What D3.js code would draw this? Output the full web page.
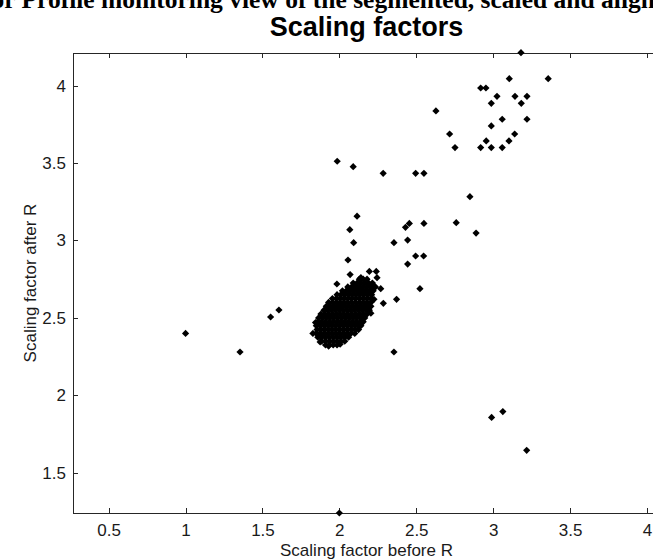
<!DOCTYPE html>
<html>
<head>
<meta charset="utf-8">
<script src="https://cdn.jsdelivr.net/npm/d3@7"></script>
<style>
  body { margin: 0; background: #fff; }
  svg { display: block; }
</style>
</head>
<body>
<svg></svg>
<script>
var width = 653;
var height = 560;

var xTicks = [0.5, 1, 1.5, 2, 2.5, 3, 3.5, 4];
var yTicks = [1.5, 2, 2.5, 3, 3.5, 4];

// scattered points
var outlierX = [3.181, 3.105, 3.358, 2.919, 2.953, 3.025, 3.142, 3.220, 2.988, 3.183,
  2.628, 3.059, 3.220, 2.988, 2.717, 3.140, 2.955, 3.103, 2.752, 2.919,
  2.988, 3.059, 1.986, 2.090, 2.285, 2.496, 2.550, 2.849, 2.115, 2.068,
  2.889, 2.760, 2.430, 2.455, 2.550, 2.093, 2.355, 2.444, 2.056, 2.496,
  2.548, 2.444, 1.984, 2.269, 2.524, 2.372, 2.286, 1.607, 1.553, 1.000,
  1.354, 2.355, 2.990, 3.063, 3.218, 2.000];
var outlierY = [4.213, 4.045, 4.045, 3.985, 3.985, 3.931, 3.931, 3.931, 3.886, 3.886,
  3.837, 3.783, 3.783, 3.740, 3.688, 3.688, 3.643, 3.643, 3.600, 3.600,
  3.600, 3.600, 3.512, 3.477, 3.434, 3.434, 3.434, 3.283, 3.157, 3.070,
  3.048, 3.115, 3.085, 3.110, 3.110, 2.986, 2.986, 3.003, 2.874, 2.900,
  2.900, 2.848, 2.719, 2.689, 2.689, 2.620, 2.594, 2.551, 2.506, 2.400,
  2.280, 2.280, 1.857, 1.895, 1.645, 1.240];

// ragged edge of the dense cluster
var edgeX = [1.828, 1.845, 1.875, 1.930, 2.005, 2.205, 2.225, 2.235, 2.245, 2.195, 2.240, 2.070, 2.140, 2.120];
var edgeY = [2.400, 2.470, 2.345, 2.318, 2.330, 2.530, 2.620, 2.700, 2.760, 2.800, 2.800, 2.780, 2.760, 2.460];

// dense cluster, row by row
var clusterRowY = [2.325, 2.35, 2.375, 2.40, 2.425, 2.45, 2.475, 2.50, 2.525,
  2.55, 2.575, 2.60, 2.625, 2.65, 2.675, 2.70, 2.725, 2.75];
var clusterRowX = [
  [1.91, 1.935, 1.96, 1.985],
  [1.885, 1.91, 1.935, 1.96, 1.985, 2.01, 2.035],
  [1.86, 1.885, 1.91, 1.935, 1.96, 1.985, 2.01, 2.035, 2.06],
  [1.85, 1.875, 1.9, 1.925, 1.95, 1.975, 2, 2.025, 2.05, 2.075, 2.1],
  [1.855, 1.88, 1.905, 1.93, 1.955, 1.98, 2.005, 2.03, 2.055, 2.08, 2.105, 2.125],
  [1.85, 1.875, 1.9, 1.925, 1.95, 1.975, 2, 2.025, 2.05, 2.075, 2.1, 2.125, 2.14],
  [1.86, 1.885, 1.91, 1.935, 1.96, 1.985, 2.01, 2.035, 2.06, 2.085, 2.11, 2.135, 2.155],
  [1.865, 1.89, 1.915, 1.94, 1.965, 1.99, 2.015, 2.04, 2.065, 2.09, 2.115, 2.14, 2.165],
  [1.88, 1.905, 1.93, 1.955, 1.98, 2.005, 2.03, 2.055, 2.08, 2.105, 2.13, 2.155, 2.18],
  [1.9, 1.925, 1.95, 1.975, 2, 2.025, 2.05, 2.075, 2.1, 2.125, 2.15, 2.175, 2.195],
  [1.915, 1.94, 1.965, 1.99, 2.015, 2.04, 2.065, 2.09, 2.115, 2.14, 2.165, 2.19, 2.205],
  [1.93, 1.955, 1.98, 2.005, 2.03, 2.055, 2.08, 2.105, 2.13, 2.155, 2.18, 2.205],
  [1.955, 1.98, 2.005, 2.03, 2.055, 2.08, 2.105, 2.13, 2.155, 2.18, 2.205],
  [1.985, 2.01, 2.035, 2.06, 2.085, 2.11, 2.135, 2.16, 2.185, 2.21],
  [2.02, 2.045, 2.07, 2.095, 2.12, 2.145, 2.17, 2.195, 2.22],
  [2.055, 2.08, 2.105, 2.13, 2.155, 2.18, 2.205, 2.225],
  [2.09, 2.115, 2.14, 2.165, 2.19, 2.215],
  [2.13, 2.155, 2.18]
];

var points = [];
outlierX.forEach((x, i) => points.push({ x: x, y: outlierY[i] }));
edgeX.forEach((x, i) => points.push({ x: x, y: edgeY[i] }));
clusterRowY.forEach((y, r) => clusterRowX[r].forEach(x => points.push({ x: x, y: y })));

var margin = { top: 53, right: -7, bottom: 47, left: 73 };
var innerWidth = width - margin.left - margin.right;
var innerHeight = height - margin.top - margin.bottom;

var svg = d3.select('svg')
    .attr('width', width)
    .attr('height', height);

var x = d3.scaleLinear().domain([0.268, 4.085]).range([0, innerWidth]);
var y = d3.scaleLinear().domain([1.24, 4.211]).range([innerHeight, 0]);

// cut-off figure heading above the axes
svg.append('text')
    .attr('x', -17)
    .attr('y', 8)
    .attr('font-family', '"Liberation Serif", "Times New Roman", serif')
    .attr('font-weight', 'bold')
    .attr('font-size', 25.5)
    .text('for Profile monitoring view of the segmented, scaled and aligned');

var g = svg.append('g')
    .attr('transform', `translate(${margin.left},${margin.top})`);

g.append('text')
    .attr('x', innerWidth / 2)
    .attr('y', -17)
    .attr('text-anchor', 'middle')
    .attr('font-family', '"Liberation Sans", Arial, sans-serif')
    .attr('font-weight', 'bold')
    .attr('font-size', 27)
    .text('Scaling factors');

var axisColor = '#262626';
var tickFont = '"Liberation Sans", Arial, sans-serif';

// box
g.append('rect')
    .attr('x', 0).attr('y', 0)
    .attr('width', innerWidth).attr('height', innerHeight)
    .attr('fill', 'none')
    .attr('stroke', axisColor)
    .attr('stroke-width', 1)
    .attr('shape-rendering', 'crispEdges');

var xAxis = g.append('g').attr('transform', `translate(0,${innerHeight})`)
    .call(d3.axisBottom(x).tickValues(xTicks).tickSizeInner(-5).tickSizeOuter(0).tickPadding(11).tickFormat(d3.format('')));
var xAxisTop = g.append('g')
    .call(d3.axisTop(x).tickValues(xTicks).tickSizeInner(-5).tickSizeOuter(0).tickFormat(''));
var yAxis = g.append('g')
    .call(d3.axisLeft(y).tickValues(yTicks).tickSizeInner(-5).tickSizeOuter(0).tickPadding(7).tickFormat(d3.format('')));
var yAxisRight = g.append('g').attr('transform', `translate(${innerWidth},0)`)
    .call(d3.axisRight(y).tickValues(yTicks).tickSizeInner(-5).tickSizeOuter(0).tickFormat(''));

[xAxis, xAxisTop, yAxis, yAxisRight].forEach(a => {
  a.select('.domain').remove();
  a.selectAll('line').attr('stroke', axisColor).attr('shape-rendering', 'crispEdges');
  a.selectAll('text')
      .attr('fill', '#1a1a1a')
      .attr('font-family', tickFont)
      .attr('font-size', 17);
});

g.append('text')
    .attr('x', innerWidth / 2)
    .attr('y', innerHeight + 43)
    .attr('text-anchor', 'middle')
    .attr('fill', '#1a1a1a')
    .attr('font-family', tickFont)
    .attr('font-size', 17)
    .text('Scaling factor before R');

g.append('text')
    .attr('transform', `translate(-37,${innerHeight / 2}) rotate(-90)`)
    .attr('text-anchor', 'middle')
    .attr('fill', '#1a1a1a')
    .attr('font-family', tickFont)
    .attr('font-size', 17)
    .text('Scaling factor after R');

// diamond markers
g.selectAll('path.pt').data(points)
  .enter().append('path')
    .attr('class', 'pt')
    .attr('transform', d => `translate(${x(d.x)},${y(d.y)})`)
    .attr('d', 'M0,-3.6L3.6,0L0,3.6L-3.6,0Z')
    .attr('fill', '#000');
</script>
</body>
</html>
